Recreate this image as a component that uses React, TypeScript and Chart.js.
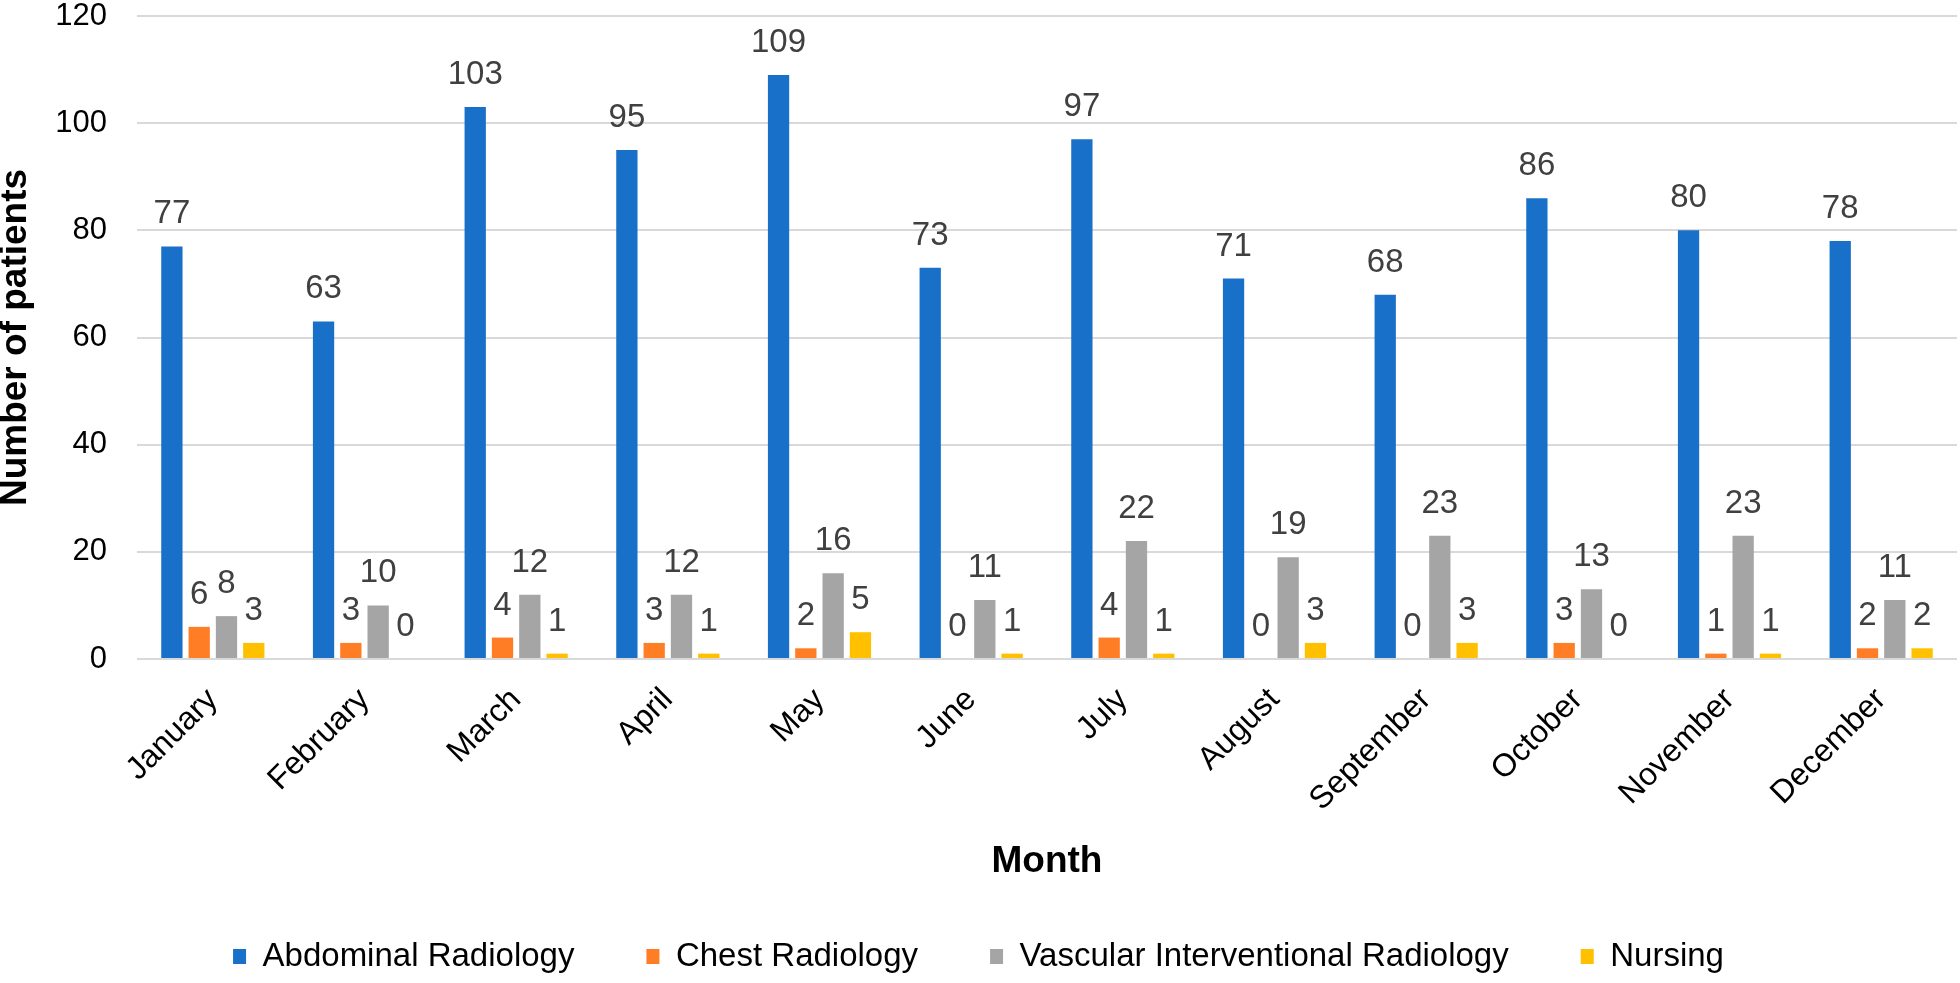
import React, { useEffect, useRef } from "react";
import { Chart, registerables } from "chart.js";

Chart.register(...registerables);

const months = ["January", "February", "March", "April", "May", "June", "July", "August", "September", "October", "November", "December"];
const abdominal = [77, 63, 103, 95, 109, 73, 97, 71, 68, 86, 80, 78];
const chest = [6, 3, 4, 3, 2, 0, 4, 0, 0, 3, 1, 2];
const vascular = [8, 10, 12, 12, 16, 11, 22, 19, 23, 13, 23, 11];
const nursing = [3, 0, 1, 1, 5, 1, 1, 3, 3, 0, 1, 2];
const seriesNames = ["Abdominal Radiology", "Chest Radiology", "Vascular Interventional Radiology", "Nursing"];
const seriesColors = ["#1870C9", "#FF7D24", "#A5A5A5", "#FFC000"];
const yTicks = [0, 20, 40, 60, 80, 100, 120];

const FONT = "'Liberation Sans', Arial, sans-serif";

const valueLabels = {
  id: "valueLabels",
  afterDatasetsDraw(chart: any) {
    const ctx = chart.ctx;
    ctx.save();
    ctx.font = `33px ${FONT}`;
    ctx.fillStyle = "#404040";
    ctx.textAlign = "center";
    ctx.textBaseline = "alphabetic";
    chart.data.datasets.forEach((ds: any, i: number) => {
      const meta = chart.getDatasetMeta(i);
      meta.data.forEach((bar: any, j: number) => {
        ctx.fillText(String(ds.data[j]), bar.x, bar.y - 23);
      });
    });
    ctx.restore();
  },
};

export default function App() {
  const ref = useRef<HTMLCanvasElement>(null);
  useEffect(() => {
    document.body.style.margin = "0";
    const data = [abdominal, chest, vascular, nursing];
    const chart = new Chart(ref.current as HTMLCanvasElement, {
      type: "bar",
      data: {
        labels: months,
        datasets: data.map((d, i) => ({
          label: seriesNames[i],
          data: d,
          backgroundColor: seriesColors[i],
          borderWidth: 0,
          categoryPercentage: 0.72,
          barPercentage: 0.78,
        })),
      },
      options: {
        responsive: false,
        animation: false,
        devicePixelRatio: 1,
        layout: { padding: { top: 0, left: 0, right: 3, bottom: 0 } },
        plugins: {
          tooltip: { enabled: false },
          legend: {
            position: "bottom",
            labels: {
              font: { family: FONT, size: 33 },
              color: "#000",
              boxWidth: 13,
              boxHeight: 15,
              padding: 72,
            },
          },
        },
        scales: {
          x: {
            grid: { display: false },
            border: { display: false },
            ticks: {
              font: { family: FONT, size: 32 },
              color: "#000",
              minRotation: 45,
              maxRotation: 45,
              autoSkip: false,
              padding: 14,
            },
            title: {
              display: true,
              text: "Month",
              font: { family: FONT, size: 37, weight: "bold", lineHeight: 1 },
              color: "#000",
              padding: { top: 0, bottom: -12 },
            },
            afterFit: (scale: any) => {
              scale.height = 209;
              scale.paddingTop = 0;
            },
          },
          y: {
            min: 0,
            max: 120,
            afterBuildTicks: (scale: any) => {
              scale.ticks = yTicks.map((v) => ({ value: v }));
            },
            grid: { color: "#D9D9D9", lineWidth: 2, drawTicks: false },
            border: { display: false },
            ticks: {
              font: { family: FONT, size: 31, lineHeight: 1 },
              color: "#000",
              padding: 30,
            },
            title: {
              display: true,
              text: "Number of patients",
              font: { family: FONT, size: 37, weight: "bold", lineHeight: 1 },
              color: "#000",
              padding: { top: -3, bottom: 0 },
            },
            afterFit: (scale: any) => {
              scale.width = 137;
              scale.paddingTop = 16;
              scale.paddingBottom = 0;
            },
          },
        },
      },
      plugins: [valueLabels],
    });
    return () => chart.destroy();
  }, []);
  return (
    <div style={{ width: 1960, height: 983, background: "#fff" }}>
      <canvas ref={ref} width={1960} height={983} />
    </div>
  );
}
